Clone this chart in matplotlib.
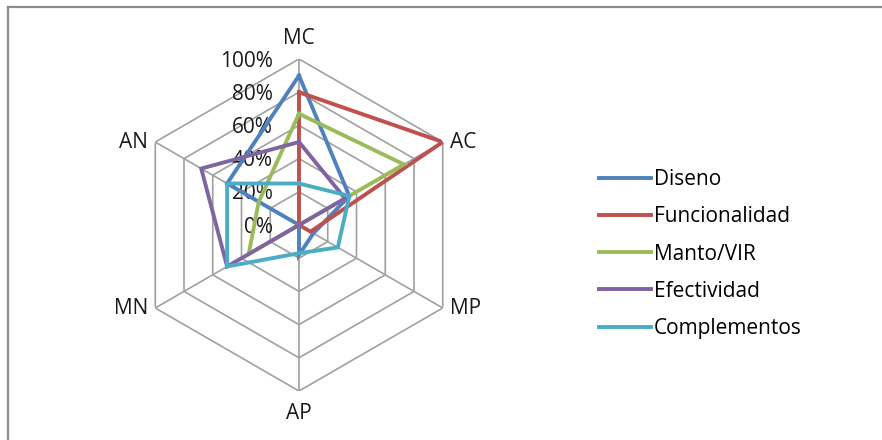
import numpy as np
import matplotlib
matplotlib.use("Agg")
import matplotlib.pyplot as plt
from matplotlib.lines import Line2D

plt.rcParams['font.family'] = ['Open Sans', 'DejaVu Sans']

# ejes del radar y series (en %)
categorias = ["MC", "AC", "MP", "AP", "MN", "AN"]
diseno = [90, 35, 10, 18, 0, 50]
funcionalidad = [80, 100, 8, 0, 0, 0]
manto_vir = [67, 73, 0, 0, 35, 28]
efectividad = [50, 32, 0, 0, 50, 68]
complementos = [25, 35, 27, 17, 50, 50]
series = ["Diseno", "Funcionalidad", "Manto/VIR", "Efectividad", "Complementos"]
valores = [diseno, funcionalidad, manto_vir, efectividad, complementos]
colores = ["#4F81BD", "#C0504D", "#9BBB59", "#8064A2", "#4BACC6"]
niveles = [0, 20, 40, 60, 80, 100]

fs = 15
fig = plt.figure(figsize=(8.82, 4.40), dpi=100)

# marco del grafico
fig.add_artist(Line2D([8/882, 8/882], [0, 1 - 7/440], color="#8c8c8c", lw=1.6,
                      transform=fig.transFigure))
fig.add_artist(Line2D([8/882, 1], [1 - 7/440, 1 - 7/440], color="#8c8c8c", lw=1.6,
                      transform=fig.transFigure))

ax = fig.add_axes([133/882, 49/440, 332/882, 332/440], projection="polar")
ax.set_theta_offset(np.pi / 2)
ax.set_theta_direction(-1)
ax.set_ylim(0, 100)
ax.grid(False)
ax.spines["polar"].set_visible(False)
ax.set_xticks([])
ax.set_yticks([])

n = len(categorias)
ang = np.linspace(0, 2 * np.pi, n, endpoint=False)
ang_c = np.append(ang, ang[0])

# rejilla hexagonal y radios
for nv in niveles[1:]:
    ax.plot(ang_c, [nv] * (n + 1), color="#a0a0a0", lw=1.2, zorder=1)
for a in ang:
    ax.plot([a, a], [0, 100], color="#a0a0a0", lw=1.2, zorder=1)

for nv in niveles:
    ax.annotate(f"{nv}%", xy=(0, nv), xytext=(-26, -2), textcoords="offset pixels",
                ha="right", va="center", fontsize=fs, color="#1a1a1a", zorder=2)

desp = [(0, 10, "center", "bottom"), (7, 0, "left", "center"), (7, 0, "left", "center"),
        (0, -12, "center", "top"), (-7, 0, "right", "center"), (-7, 0, "right", "center")]
for a, lab, (dx, dy, ha, va) in zip(ang, categorias, desp):
    ax.annotate(lab, xy=(a, 100), xytext=(dx, dy), textcoords="offset pixels",
                ha=ha, va=va, fontsize=fs, color="#1a1a1a", annotation_clip=False)

for nombre, v, c in zip(series, valores, colores):
    ax.plot(ang_c, v + v[:1], color=c, lw=2.8, label=nombre, zorder=3,
            solid_joinstyle="miter")

ax.legend(loc="center left", bbox_to_anchor=(599/882, 1 - 254/440),
          bbox_transform=fig.transFigure, frameon=False, fontsize=fs,
          handlelength=2.5, handletextpad=0.12, labelspacing=0.78, borderaxespad=0,
          borderpad=0)

fig.savefig("out.png", dpi=100)
